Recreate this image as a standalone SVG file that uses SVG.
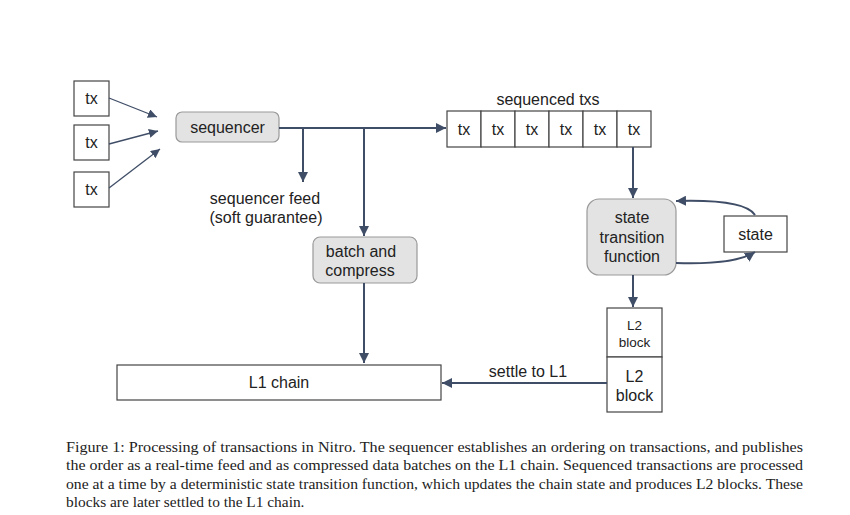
<svg xmlns="http://www.w3.org/2000/svg" width="850" height="515" viewBox="0 0 850 515">
<style>
.box{fill:#fff;stroke:#444;stroke-width:1.2}
.rbox{fill:#e3e3e3;stroke:#999;stroke-width:1.2}
.t{font-family:"Liberation Sans",Arial,sans-serif;font-size:16px;fill:#222;text-anchor:middle}
.ts{font-family:"Liberation Sans",Arial,sans-serif;font-size:13.5px;fill:#222;text-anchor:middle}
.c{stroke:#3f4d66;stroke-width:2;fill:none}
.thin{stroke:#3f4d66;stroke-width:1.3;fill:none}
.cap{font-family:"Liberation Serif","Times New Roman",serif;font-size:15.4px;fill:#222}
</style>
<defs>
<marker id="ah" viewBox="0 0 10 10" refX="10" refY="5" markerWidth="5" markerHeight="5" markerUnits="strokeWidth" orient="auto">
<path d="M0,0 L10,5 L0,10 Z" fill="#3f4d66"/>
</marker>
<marker id="ahs" viewBox="0 0 10 10" refX="10" refY="5" markerWidth="7" markerHeight="7" markerUnits="strokeWidth" orient="auto">
<path d="M0,0 L10,5 L0,10 Z" fill="#3f4d66"/>
</marker>
</defs>
<rect width="850" height="515" fill="#fff"/>

<g id="tx1"><rect class="box" x="74" y="81" width="35" height="35"/><text class="t" x="91.5" y="104">tx</text></g>
<g id="tx2"><rect class="box" x="74" y="125" width="35" height="35"/><text class="t" x="91.5" y="148">tx</text></g>
<g id="tx3"><rect class="box" x="74" y="172" width="35" height="35"/><text class="t" x="91.5" y="195">tx</text></g>

<g id="sequencer"><rect class="rbox" x="176" y="112" width="103" height="30" rx="6"/><text class="t" x="227.5" y="133">sequencer</text></g>

<g id="seqtxs">
<text class="t" x="548" y="105">sequenced txs</text>
<rect class="box" x="447" y="111" width="34" height="36"/><text class="t" x="464" y="135">tx</text>
<rect class="box" x="481" y="111" width="34" height="36"/><text class="t" x="498" y="135">tx</text>
<rect class="box" x="515" y="111" width="34" height="36"/><text class="t" x="532" y="135">tx</text>
<rect class="box" x="549" y="111" width="34" height="36"/><text class="t" x="566" y="135">tx</text>
<rect class="box" x="583" y="111" width="34" height="36"/><text class="t" x="600" y="135">tx</text>
<rect class="box" x="617" y="111" width="34" height="36"/><text class="t" x="634" y="135">tx</text>
</g>

<g id="feedlabel"><text class="t" x="265" y="204">sequencer feed</text><text class="t" x="266" y="223">(soft guarantee)</text></g>

<g id="batch"><rect class="rbox" x="313" y="237" width="104" height="46" rx="7"/><text class="t" x="361" y="257">batch and</text><text class="t" x="360" y="276">compress</text></g>

<g id="stf"><rect class="rbox" x="587" y="199" width="89" height="76" rx="12"/><text class="t" x="632" y="223">state</text><text class="t" x="632" y="243">transition</text><text class="t" x="632" y="262">function</text></g>

<g id="state"><rect class="box" x="724" y="216" width="63" height="36"/><text class="t" x="755.5" y="240">state</text></g>

<g id="l2a"><rect class="box" x="607" y="308" width="55" height="49"/><text class="ts" x="634.5" y="330">L2</text><text class="ts" x="634.5" y="347">block</text></g>
<g id="l2b"><rect class="box" x="607" y="357" width="55" height="55"/><text class="t" x="634.5" y="382">L2</text><text class="t" x="634.5" y="401">block</text></g>

<g id="l1"><rect class="box" x="117" y="365" width="324" height="35"/><text class="t" x="279" y="388">L1 chain</text></g>

<g id="connectors">
<line class="thin" x1="109" y1="98" x2="157" y2="117" marker-end="url(#ahs)"/>
<line class="thin" x1="109" y1="144" x2="158" y2="131" marker-end="url(#ahs)"/>
<line class="thin" x1="109" y1="188" x2="160" y2="149" marker-end="url(#ahs)"/>
<line class="c" x1="279" y1="128" x2="446" y2="128" marker-end="url(#ah)"/>
<line class="c" x1="303" y1="128" x2="303" y2="182" marker-end="url(#ah)"/>
<line class="c" x1="364" y1="128" x2="364" y2="236" marker-end="url(#ah)"/>
<line class="c" x1="364" y1="283" x2="364" y2="363" marker-end="url(#ah)"/>
<line class="c" x1="633" y1="147" x2="633" y2="198" marker-end="url(#ah)"/>
<path class="c" d="M755,215 Q745,199 676,201" marker-end="url(#ah)"/>
<path class="c" d="M676,263 Q735,265 755,252" marker-end="url(#ah)"/>
<line class="c" x1="633" y1="275" x2="633" y2="307" marker-end="url(#ah)"/>
<line class="c" x1="607" y1="383" x2="442" y2="383" marker-end="url(#ah)"/>
<text class="t" x="528" y="377">settle to L1</text>
</g>

<g id="caption">
<text class="cap" x="66" y="452" textLength="737" lengthAdjust="spacingAndGlyphs">Figure 1:  Processing of transactions in Nitro.  The sequencer establishes an ordering on transactions, and publishes</text>
<text class="cap" x="66" y="470" textLength="737" lengthAdjust="spacingAndGlyphs">the order as a real-time feed and as compressed data batches on the L1 chain.  Sequenced transactions are processed</text>
<text class="cap" x="66" y="489" textLength="737" lengthAdjust="spacingAndGlyphs">one at a time by a deterministic state transition function, which updates the chain state and produces L2 blocks. These</text>
<text class="cap" x="66" y="507">blocks are later settled to the L1 chain.</text>
</g>
</svg>
